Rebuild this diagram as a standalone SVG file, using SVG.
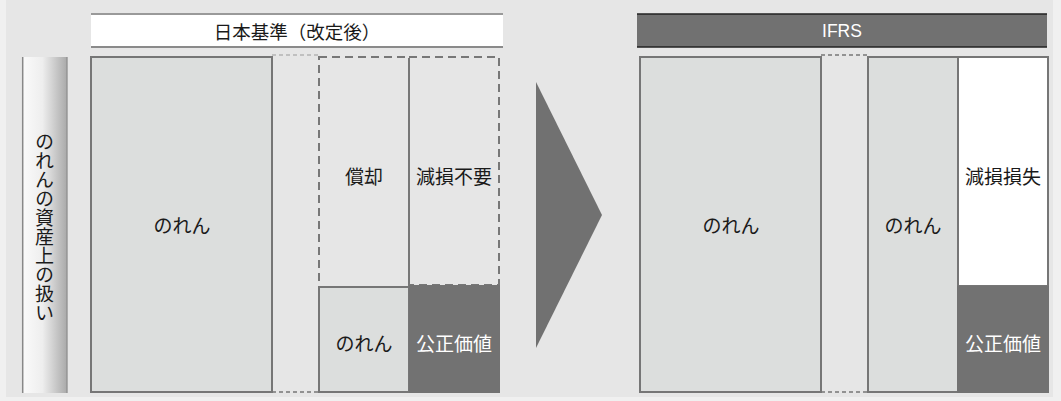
<svg xmlns="http://www.w3.org/2000/svg" width="1061" height="401" viewBox="0 0 1061 401">
<defs>
<linearGradient id="vgrad" x1="0" y1="0" x2="1" y2="0">
<stop offset="0" stop-color="#fbfbfb"/>
<stop offset="0.45" stop-color="#eeeeee"/>
<stop offset="1" stop-color="#a8a8a8"/>
</linearGradient>
<style>
.t{font-family:"Noto Sans CJK JP","Liberation Sans",sans-serif;font-size:19px;fill:#1a1a1a;text-anchor:middle;dominant-baseline:central}
.w{fill:#ffffff}
.box{fill:#dcdedd;stroke:#767676;stroke-width:2}
.dash{fill:#e6e6e6;stroke:#777777;stroke-width:2;stroke-dasharray:8 5}
.dark{fill:#727272;stroke:none}
.gapline{fill:none;stroke:#777777;stroke-width:1.5;stroke-dasharray:4 3}
</style>
</defs>
<rect x="0" y="0" width="1061" height="401" fill="#f0f0f0"/>
<rect x="6" y="0" width="1047" height="397" fill="#e6e6e6"/>

<g id="label-vertical">
<rect x="22" y="57" width="45.5" height="336" fill="url(#vgrad)"/>
<line x1="22.7" y1="57" x2="22.7" y2="393" stroke="#888" stroke-width="1.5"/>
<line x1="66.8" y1="57" x2="66.8" y2="393" stroke="#999" stroke-width="1.5"/>
<text class="t" x="44.5" y="227.5" style="writing-mode:vertical-rl;glyph-orientation-vertical:0">のれんの資産上の扱い</text>
</g>

<g id="header-jp">
<rect x="91" y="14" width="412" height="33" fill="#ffffff"/>
<line x1="91" y1="14" x2="503" y2="14" stroke="#999" stroke-width="2"/>
<line x1="91" y1="47" x2="503" y2="47" stroke="#8a8a8a" stroke-width="2"/>
<text class="t" x="297" y="30.5" style="font-size:18.5px">日本基準（改定後）</text>
</g>

<g id="header-ifrs">
<rect x="637" y="14" width="410" height="33" fill="#717171"/>
<line x1="637" y1="14" x2="1047" y2="14" stroke="#222" stroke-width="1.5"/>
<line x1="637" y1="47" x2="1047" y2="47" stroke="#222" stroke-width="1.5"/>
<text class="t w" x="842" y="30.5" style="font-family:'Liberation Sans',Arial,sans-serif;font-size:17.5px">IFRS</text>
</g>

<g id="connectors">
<line class="gapline" x1="272" y1="55" x2="319" y2="55" style="stroke:#999;stroke-width:1.2"/>
<line class="gapline" x1="272" y1="392" x2="319" y2="392"/>
<line class="gapline" x1="821" y1="55" x2="868" y2="55"/>
<line class="gapline" x1="821" y1="392" x2="868" y2="392"/>
</g>

<g id="jp-goodwill">
<rect class="box" x="91" y="57" width="181" height="335"/>
<text class="t" x="182" y="224">のれん</text>
</g>

<g id="jp-amortization">
<rect class="dash" x="319" y="57" width="90" height="230"/>
<text class="t" x="364" y="175">償却</text>
</g>

<g id="jp-no-impairment">
<rect class="dash" x="409" y="57" width="90" height="228"/>
<line x1="409" y1="58" x2="409" y2="286" stroke="#777" stroke-width="2"/>
<text class="t" x="454" y="175">減損不要</text>
</g>

<g id="jp-goodwill-small">
<rect class="box" x="319" y="287" width="90" height="105"/>
<text class="t" x="364" y="342">のれん</text>
</g>

<g id="jp-fair-value">
<rect class="dark" x="409" y="285" width="91" height="108"/>
<text class="t w" x="454" y="342">公正価値</text>
</g>

<g id="arrow">
<polygon points="536,82 602,215 536,348" fill="#717171"/>
</g>

<g id="ifrs-goodwill">
<rect class="box" x="640" y="57" width="181" height="335"/>
<text class="t" x="731" y="224">のれん</text>
</g>

<g id="ifrs-goodwill-mid">
<rect class="box" x="868" y="57" width="90" height="335"/>
<text class="t" x="913" y="224">のれん</text>
</g>

<g id="ifrs-impairment-loss">
<rect x="958" y="57" width="90" height="229" fill="#ffffff" stroke="#767676" stroke-width="2"/>
<text class="t" x="1003" y="175">減損損失</text>
</g>

<g id="ifrs-fair-value">
<rect class="dark" x="957" y="286" width="92" height="107"/>
<text class="t w" x="1003" y="342">公正価値</text>
</g>
</svg>
